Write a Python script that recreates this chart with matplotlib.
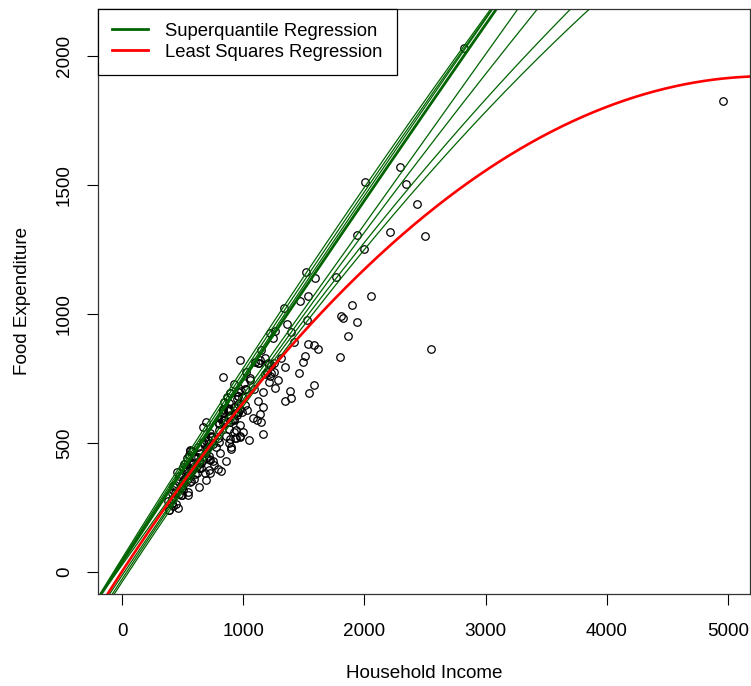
import matplotlib
matplotlib.use("Agg")
import matplotlib.pyplot as plt
import numpy as np
from matplotlib.lines import Line2D

plt.rcParams["font.family"] = ["Liberation Sans", "DejaVu Sans"]

# Engel food expenditure data (household income vs food expenditure)
income = [
    420.1577, 541.4117, 901.1575, 639.0802, 750.8756, 945.7989, 829.3979, 979.1648, 1309.8789, 1492.3987,
    502.8390, 616.7168, 790.9225, 555.8786, 713.4412, 838.7561, 535.0766, 596.4408, 924.5619, 487.7583,
    692.6397, 997.8770, 506.9995, 654.1587, 933.9193, 433.6813, 587.5962, 896.4746, 454.4782, 584.9989,
    800.7990, 502.4369, 713.5197, 906.0006, 880.5969, 796.8289, 854.8791, 1167.3716, 523.8000, 670.7792,
    377.0584, 851.5430, 1121.0937, 625.5179, 805.5377, 558.5812, 884.4005, 1257.4989, 2051.1789, 1466.3330,
    730.0989, 2432.3910, 940.9218, 1177.8547, 1222.5939, 1519.5811, 687.6638, 953.1192, 953.1192, 953.1192,
    939.0418, 1283.4025, 1511.5789, 1342.5821, 511.7980, 689.7988, 1532.3074, 1056.0808, 387.3195, 387.3195,
    410.9987, 499.7510, 832.7554, 614.9986, 887.4658, 1595.1611, 1807.9520, 541.2006, 1057.6767, 800.7990,
    1245.6964, 1201.0002, 634.4002, 956.2315, 1148.6010, 1768.8236, 2822.5330, 922.3548, 2293.1920, 627.4726,
    889.9809, 1162.2000, 1197.0794, 530.7972, 1142.1632, 1088.0039, 484.6612, 1536.0201, 678.8974, 671.8802,
    690.4683, 860.6948, 873.3095, 894.4598, 1148.6470, 926.8762, 839.0414, 829.4974, 1264.0043, 1937.9771,
    698.8317, 920.4199, 1897.5711, 891.6824, 889.6784, 1221.4818, 544.5991, 1031.4491, 1462.9497, 830.4353,
    975.0415, 1337.9983, 867.6427, 725.7459, 989.0056, 1525.0005, 672.1960, 923.3977, 472.3215, 590.7601,
    831.7983, 1139.4945, 507.5169, 576.1972, 696.5991, 650.8180, 949.5802, 497.1193, 570.1674, 724.7306,
    408.3399, 638.6713, 1225.7890, 715.3701, 800.4708, 975.5974, 1613.7565, 608.5019, 958.6634, 835.9426,
    1024.8177, 1006.4353, 726.0000, 494.4174, 776.5958, 415.4407, 581.3599, 643.3571, 2551.6615, 1795.3226,
    1165.7734, 815.6212, 1264.2066, 1095.4056, 447.4479, 1178.9742, 975.8023, 1017.8522, 423.8798, 558.7767,
    943.2487, 1348.3002, 2340.6174, 587.1792, 1540.9741, 1115.8481, 1044.6843, 1389.7929, 2497.7860, 1585.3809,
    1862.0438, 2008.8546, 697.3099, 571.2517, 598.3465, 461.0977, 977.1107, 883.9849, 718.3594, 543.8971,
    1587.3480, 4957.8130, 969.6838, 419.9980, 561.9990, 689.5988, 1398.5203, 820.8168, 875.1716, 1392.4499,
    1256.3174, 1362.8590, 1999.2552, 1209.4730, 1125.0356, 1827.4010, 1014.1540, 880.3944, 873.7375, 951.4432,
    473.0022, 601.0030, 713.9979, 829.2984, 959.7953, 1212.9613, 958.8743, 1129.4431, 1943.0419, 539.6388,
    463.5990, 562.6400, 736.7584, 1415.4461, 2208.7897, 636.0009, 759.4010, 1078.8382, 748.6413, 987.6417,
    788.0961, 1020.0225, 1230.9235, 440.5174, 743.0772,
]
foodexp = [
    255.8394, 310.9587, 485.6800, 402.9974, 495.5608, 633.7978, 630.7566, 700.4409, 830.9586, 815.3602,
    338.0014, 412.3613, 520.0006, 452.4015, 512.7201, 658.8395, 392.5995, 443.5586, 640.1164, 333.8394,
    466.9583, 543.3969, 317.7198, 424.3209, 518.9617, 338.0014, 419.6412, 476.3200, 386.3602, 423.2783,
    503.3572, 354.6389, 497.3182, 588.5195, 654.5971, 550.7274, 528.3770, 640.4813, 401.3204, 435.9990,
    276.5606, 588.3488, 664.1978, 444.8602, 462.8995, 377.7792, 553.1504, 810.8962, 1067.9541, 1049.8788,
    522.7012, 1424.8047, 517.9196, 830.9586, 925.5795, 1162.0024, 383.4580, 621.1173, 621.1173, 621.1173,
    548.6002, 745.2353, 837.8005, 795.3402, 418.5976, 508.7974, 883.2780, 742.5276, 242.3202, 242.3202,
    266.0010, 408.4992, 614.7588, 385.3184, 515.6200, 1138.1620, 993.9630, 299.1993, 750.3202, 572.0807,
    907.3969, 811.5776, 427.7975, 649.9985, 860.6002, 1143.4211, 2032.6792, 590.6183, 1570.3911, 483.4800,
    600.4804, 696.2021, 774.7962, 390.5984, 612.5619, 708.7622, 296.9192, 1071.4627, 496.5976, 503.3974,
    357.6411, 430.3376, 624.6990, 582.5413, 580.2215, 543.8807, 588.6372, 627.9999, 712.1012, 968.3949,
    482.5816, 593.1694, 1033.5658, 693.6795, 693.6795, 761.2791, 361.3981, 628.4522, 771.4486, 757.1187,
    821.5970, 1022.3202, 679.4407, 538.7491, 679.9981, 977.0033, 561.2015, 728.3997, 372.3186, 361.5210,
    620.8006, 819.9964, 360.8780, 395.7608, 442.0001, 404.0384, 670.7993, 297.5702, 353.4882, 383.9376,
    284.8008, 431.1000, 801.3518, 448.4513, 577.9111, 570.5210, 865.3205, 444.5578, 680.4198, 576.2779,
    708.4787, 734.2356, 433.0010, 327.4188, 485.5198, 305.4390, 468.0008, 459.8177, 863.9199, 831.4407,
    534.7610, 392.0502, 934.9752, 813.3081, 263.7100, 769.0838, 630.5863, 645.9874, 319.5584, 348.4518,
    614.5068, 662.0096, 1504.3708, 406.2180, 692.1689, 588.1371, 511.2609, 700.5600, 1301.1451, 879.0660,
    912.8851, 1509.7812, 484.0605, 399.6703, 444.1001, 248.8101, 527.8014, 500.6313, 436.8107, 374.7990,
    726.3921, 1827.2000, 523.4911, 334.9998, 473.2009, 581.2029, 929.7540, 591.1974, 637.5483, 674.9509,
    776.7589, 959.5170, 1250.9643, 737.8201, 810.6772, 983.0009, 708.8968, 633.1200, 631.7982, 608.6419,
    300.9999, 377.9984, 397.0015, 588.5195, 681.7616, 807.3603, 696.8011, 811.1962, 1305.7201, 442.0001,
    353.6013, 468.0008, 526.7573, 890.2390, 1318.8033, 331.0005, 416.4015, 596.8406, 429.0399, 619.6408,
    400.7990, 775.0209, 772.7611, 306.5191, 522.6019,
]

# quadratic fits (intercept, linear, quadratic)
sq_intercept = [53.0, 46.0, 41.0, 38.3, 27.1, -13.5, -27.4, -38.9]
sq_linear = [0.7560, 0.7410, 0.7250, 0.7133, 0.6607, 0.6992, 0.7175, 0.7181]
sq_quad = [-1.85e-5, -1.36e-5, -8.2e-6, -6.3e-6, -3e-7, -1.714e-5, -3.26e-5, -3.69e-5]
sq_thick = [False, False, False, True, False, False, False, False]

ls_coef = (2.0, 0.721, -6.77e-5)

W, H = 751, 686
fig = plt.figure(figsize=(W / 100, H / 100), dpi=100)
left, right, top, bottom = 97.8, 750.3, 8.5, 593.7
ax = fig.add_axes([left / W, 1 - bottom / H, (right - left) / W, (bottom - top) / H])

ax.plot(income, foodexp, linestyle="none", marker="o", markersize=5.4,
        markerfacecolor="none", markeredgecolor="black", markeredgewidth=0.9)

xs = np.linspace(-300, 5400, 600)
for a, b, c, thick in zip(sq_intercept, sq_linear, sq_quad, sq_thick):
    ax.plot(xs, a + b * xs + c * xs ** 2, color="darkgreen",
            linewidth=2.0 if thick else 0.9)

a, b, c = ls_coef
ax.plot(xs, a + b * xs + c * xs ** 2, color="red", linewidth=1.9)

ax.set_xlim(-200, 5185)
ax.set_ylim(-84, 2184)
ax.set_xticks([0, 1000, 2000, 3000, 4000, 5000])
ax.set_yticks([0, 500, 1000, 1500, 2000])
ax.tick_params(axis="both", direction="out", length=8, width=0.8, labelsize=13.6)
ax.tick_params(axis="x", pad=13)
ax.tick_params(axis="y", labelrotation=90, pad=10)
for lbl in ax.get_yticklabels():
    lbl.set_va("center")
for s in ax.spines.values():
    s.set_linewidth(0.9)
    s.set_color("#333333")

ax.set_xlabel("Household Income", fontsize=13.6, labelpad=18)
ax.set_ylabel("Food Expenditure", fontsize=13.6, labelpad=17.5)

handles = [Line2D([], [], color="darkgreen", linewidth=2.0),
           Line2D([], [], color="red", linewidth=2.0)]
leg = ax.legend(handles, ["Superquantile Regression", "Least Squares Regression"],
                loc="upper left", bbox_to_anchor=(0, 1), borderaxespad=0,
                fontsize=13.3, fancybox=False, framealpha=1, edgecolor="black",
                handlelength=1.95, handletextpad=0.9, borderpad=0.78, labelspacing=0.2)
leg.get_frame().set_linewidth(0.9)

fig.savefig("out.png", dpi=100)
